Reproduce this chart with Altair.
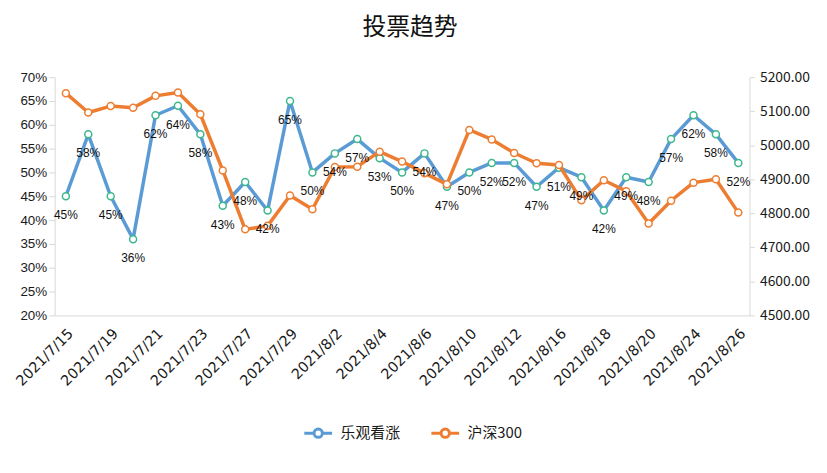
import altair as alt
import pandas as pd

dates = ["2021/7/15", "2021/7/16", "2021/7/19", "2021/7/20", "2021/7/21", "2021/7/22",
         "2021/7/23", "2021/7/26", "2021/7/27", "2021/7/28", "2021/7/29", "2021/7/30",
         "2021/8/2", "2021/8/3", "2021/8/4", "2021/8/5", "2021/8/6", "2021/8/9",
         "2021/8/10", "2021/8/11", "2021/8/12", "2021/8/13", "2021/8/16", "2021/8/17",
         "2021/8/18", "2021/8/19", "2021/8/20", "2021/8/23", "2021/8/24", "2021/8/25",
         "2021/8/26"]
bullish = [0.45, 0.58, 0.45, 0.36, 0.62, 0.64, 0.58, 0.43, 0.48, 0.42, 0.65, 0.50,
           0.54, 0.57, 0.53, 0.50, 0.54, 0.47, 0.50, 0.52, 0.52, 0.47, 0.51, 0.49,
           0.42, 0.49, 0.48, 0.57, 0.62, 0.58, 0.52]
csi300 = [5153, 5096, 5115, 5110, 5145, 5155, 5091, 4926, 4753, 4763, 4852, 4812,
          4936, 4937, 4981, 4952, 4918, 4885, 5045, 5017, 4977, 4947, 4942, 4838,
          4897, 4865, 4770, 4837, 4890, 4900, 4802]
series_names = ["乐观看涨", "沪深300"]
series_colors = ["#5B9BD5", "#ED7D31"]
tick_labels = dates[::2]
left_ticks = [0.20, 0.25, 0.30, 0.35, 0.40, 0.45, 0.50, 0.55, 0.60, 0.65, 0.70]
right_ticks = [4500, 4600, 4700, 4800, 4900, 5000, 5100, 5200]

df_bull = pd.DataFrame({"date": dates, "value": bullish, "series": series_names[0]})
df_csi = pd.DataFrame({"date": dates, "value": csi300, "series": series_names[1]})

FONT = "Liberation Sans"
CJK = "Noto Sans CJK SC"
AX = "#D9D9D9"

x_enc = alt.X("date:N", sort=dates, title=None,
              axis=alt.Axis(values=tick_labels, labelAngle=-45, ticks=False,
                            domainColor=AX, labelFont="DejaVu Sans", labelFontSize=14.5,
                            labelColor="#1a1a1a", labelPadding=11))

stroke_scale = alt.Scale(domain=series_names, range=series_colors)
legend_path = "M-1,0L-0.3,0M0.3,0L1,0M-0.3,0A0.3,0.3,0,1,0,0.3,0A0.3,0.3,0,1,0,-0.3,0Z"

left_scale = alt.Scale(domain=[0.2, 0.7], nice=False, zero=False)
right_scale = alt.Scale(domain=[4500, 5200], nice=False, zero=False)

blue_line = alt.Chart(df_bull).mark_line(strokeWidth=3.5, strokeJoin="round").encode(
    x=x_enc,
    y=alt.Y("value:Q", scale=left_scale, title=None,
            axis=alt.Axis(values=left_ticks, format=".0%", grid=False, domainColor=AX,
                          tickColor=AX, tickSize=6, labelFont=FONT, labelFontSize=13.5,
                          labelColor="#1a1a1a", labelPadding=2)),
    stroke=alt.Stroke("series:N", scale=stroke_scale, sort=series_names,
                      legend=alt.Legend(title=None, orient="none", legendX=250, legendY=343,
                                        direction="horizontal", symbolType=legend_path,
                                        symbolSize=784, symbolStrokeWidth=3,
                                        symbolFillColor="white", labelFont=CJK,
                                        labelFontSize=15, labelColor="#1a1a1a",
                                        columnPadding=24, labelOffset=7)),
)
blue_pts = alt.Chart(df_bull).mark_point(shape="circle", filled=True, fill="white",
                                         stroke="#3DB88C", strokeWidth=1.5, size=50,
                                         opacity=1).encode(
    x=x_enc, y=alt.Y("value:Q", scale=left_scale, axis=None))
orange_line = alt.Chart(df_csi).mark_line(strokeWidth=3.5, strokeJoin="round").encode(
    x=x_enc,
    y=alt.Y("value:Q", scale=right_scale, title=None,
            axis=alt.Axis(orient="right", values=right_ticks, format=".2f", grid=False,
                          domainColor=AX, tickColor=AX, tickSize=5, labelFont=CJK,
                          labelFontSize=14, labelColor="#1a1a1a", labelPadding=5)),
    stroke=alt.Stroke("series:N", scale=stroke_scale, sort=series_names),
)
orange_pts = alt.Chart(df_csi).mark_point(shape="circle", filled=True, fill="white",
                                          stroke="#ED7D31", strokeWidth=1.5, size=50,
                                          opacity=1).encode(
    x=x_enc, y=alt.Y("value:Q", scale=right_scale, axis=None))
blue_text = alt.Chart(df_bull).mark_text(dy=19, fontSize=12, font=FONT, color="#111").encode(
    x=x_enc, y=alt.Y("value:Q", scale=left_scale, axis=None),
    text=alt.Text("value:Q", format=".0%"))

chart = alt.layer(blue_line, blue_pts, orange_line, orange_pts, blue_text).resolve_scale(
    y="independent", stroke="shared"
).properties(
    width=700, height=240,
    autosize=alt.AutoSizeParams(type="none"),
    padding={"left": 47, "top": 68, "right": 70, "bottom": 140},
    title=alt.TitleParams("投票趋势", fontSize=24, font=CJK, fontWeight="normal",
                          anchor="middle", offset=30, dx=8, color="#111"),
).configure_view(stroke=None)

chart.save("out.html", embed_options={"renderer": "svg", "actions": False})
